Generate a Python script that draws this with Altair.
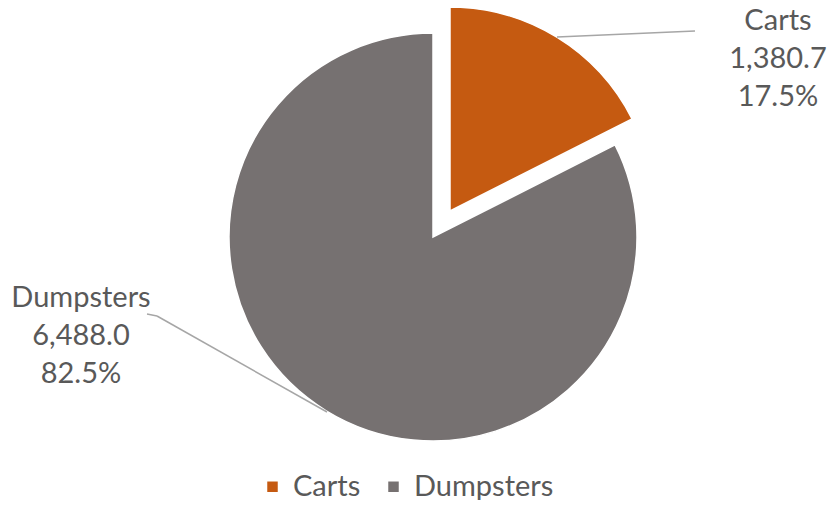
import altair as alt
import pandas as pd

categories = ["Carts", "Dumpsters"]
values = [1380.7, 6488.0]
colors = ["#C55A11", "#767171"]
order = [0, 1]

df = pd.DataFrame({"cat": categories, "value": values, "ord": order})

FONT = "Lato"
TXT = "#595959"
R = 204

base = alt.Chart(df).transform_joinaggregate(total="sum(value)").transform_calculate(
    label="datum.cat + '\\n' + format(datum.value, ',.1f') + '\\n' + format(datum.value / datum.total, '.1%')"
)

color = alt.Color(
    "cat:N",
    scale=alt.Scale(domain=categories, range=colors),
    legend=alt.Legend(
        title=None,
        orient="none",
        direction="horizontal",
        legendX=250,
        legendY=464,
        symbolType="square",
        symbolSize=110,
        symbolStrokeWidth=0,
        labelFont=FONT,
        labelFontSize=29,
        labelColor=TXT,
        labelOffset=6,
        columnPadding=18,
    ),
)

theta = alt.Theta("value:Q", stack=True)

main = base.mark_arc(outerRadius=R, stroke="white", strokeWidth=1.5).encode(
    theta=theta,
    order=alt.Order("ord:Q"),
    color=color,
    x=alt.value(425),
    y=alt.value(229),
    opacity=alt.condition("datum.cat == 'Dumpsters'", alt.value(1), alt.value(0)),
)

exploded = base.mark_arc(outerRadius=R, stroke="white", strokeWidth=1.5).encode(
    theta=theta,
    order=alt.Order("ord:Q"),
    color=color,
    x=alt.value(442),
    y=alt.value(203),
    opacity=alt.condition("datum.cat == 'Carts'", alt.value(1), alt.value(0)),
)

leader_c = base.transform_filter("datum.cat == 'Carts'").mark_rule(
    color="#A6A6A6", strokeWidth=1.5
).encode(x=alt.value(549), y=alt.value(29), x2=alt.value(687), y2=alt.value(23))

leader_d1 = base.transform_filter("datum.cat == 'Dumpsters'").mark_rule(
    color="#A6A6A6", strokeWidth=1.5
).encode(x=alt.value(139), y=alt.value(306), x2=alt.value(149), y2=alt.value(308))

leader_d2 = base.transform_filter("datum.cat == 'Dumpsters'").mark_rule(
    color="#A6A6A6", strokeWidth=1.5
).encode(x=alt.value(149), y=alt.value(308), x2=alt.value(319), y2=alt.value(404))

lab_c = base.transform_filter("datum.cat == 'Carts'").mark_text(
    font=FONT, fontSize=29, color=TXT, align="center", baseline="middle",
    lineBreak="\n", lineHeight=38,
).encode(text="label:N", x=alt.value(770), y=alt.value(13))

lab_d = base.transform_filter("datum.cat == 'Dumpsters'").mark_text(
    font=FONT, fontSize=29, color=TXT, align="center", baseline="middle",
    lineBreak="\n", lineHeight=38,
).encode(text="label:N", x=alt.value(73), y=alt.value(290))

chart = alt.layer(main, exploded, leader_c, leader_d1, leader_d2, lab_c, lab_d).properties(
    width=821, height=492, autosize=alt.AutoSizeParams(type="none"), padding=0
).configure_view(stroke=None)

chart.save("out.html", embed_options={"renderer": "svg", "actions": False})
